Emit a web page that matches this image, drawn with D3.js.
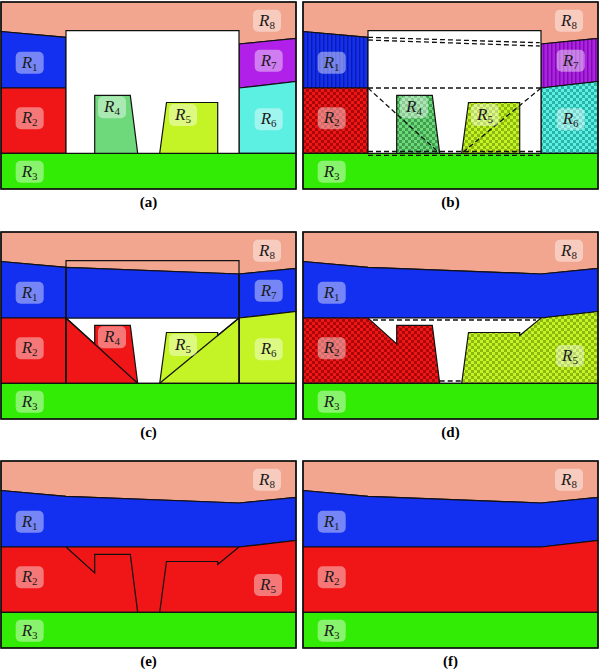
<!DOCTYPE html>
<html>
<head>
<meta charset="utf-8">
<script src="https://cdn.jsdelivr.net/npm/d3@7"></script>
<style>
  body { margin: 0; background: #fff; }
  svg { display: block; }
</style>
</head>
<body>
<div id="chart"></div>
<script>
// panel layout and captions
const captions = ["(a)", "(b)", "(c)", "(d)", "(e)", "(f)"];
const panelX = [1, 303];
const panelY = [2, 232, 461];

// region colours
const colors = {
    R1: "#132ff0", R2: "#f01516", R3: "#33ec05", R4: "#6dd97b",
    R5: "#c4f426", R6: "#5cf0e2", R7: "#b020e8", R8: "#f2a690"
};
const darkColors = {
    R1: "#0a1cb0", R2: "#a80808", R4: "#3f9f4f", R5: "#8cb810",
    R6: "#2bb3aa", R7: "#7a10a8"
};

// region vertices (data units, 295 x 187 per panel)
const r8 = [[0, 0], [295, 0], [295, 36.3], [238, 42], [65, 35.3], [0, 29.5]];
const r1 = [[0, 29.5], [65, 35.3], [65, 86], [0, 86]];
const r2 = [[0, 86], [65, 86], [65, 151.3], [0, 151.3]];
const r3 = [[0, 151.3], [295, 151.3], [295, 187], [0, 187]];
const r4 = [[93.7, 93.3], [129.3, 93.3], [136.7, 151.3], [93.7, 151.3]];
const r5 = [[165.5, 100.5], [216.7, 100.5], [216.7, 151.3], [158.7, 151.3]];
const r6 = [[238, 86], [295, 79.5], [295, 151.3], [238, 151.3]];
const r7 = [[238, 42], [295, 36.3], [295, 79.5], [238, 86]];
const box = [[65, 28.7], [238, 28.7], [238, 151.3], [65, 151.3]];
const boxTop = [[65, 35.3], [238, 42], [238, 86], [65, 86]];
const boxLow = [[65, 86], [238, 86], [238, 151.3], [65, 151.3]];
const grow4 = [[65, 86], [93.7, 112], [93.7, 93.3], [129.3, 93.3], [136.7, 151.3], [65, 151.3]];
const grow5 = [[238, 86], [216.7, 103.5], [216.7, 100.5], [165.5, 100.5], [158.7, 151.3], [238, 151.3]];
const r1Full = [[0, 29.5], [65, 35.3], [238, 42], [295, 36.3], [295, 79.5], [238, 86], [0, 86]];
const r2Merged = [[0, 86], [65, 86], [93.7, 112], [93.7, 93.3], [129.3, 93.3], [136.7, 151.3], [0, 151.3]];
const r5Merged = [[295, 79.5], [238, 86], [216.7, 103.5], [216.7, 100.5], [165.5, 100.5], [158.7, 151.3], [295, 151.3]];
const lowerFull = [[0, 86], [238, 86], [295, 79.5], [295, 151.3], [0, 151.3]];

// open polylines
const r2Edge = [[65, 86], [93.7, 112], [93.7, 93.3], [129.3, 93.3], [136.7, 151.3]];
const r5Edge = [[158.7, 151.3], [165.5, 100.5], [216.7, 100.5], [216.7, 103.5], [238, 86]];
const diag4 = [[65, 86], [136.7, 151.3]];
const diag5 = [[238, 86], [158.7, 151.3]];
const dashB = [
    [[65, 35.3], [236.7, 40.7]], [[65, 38], [236.7, 44]],
    [[65, 86], [238, 86]], diag4, diag5,
    [[65, 149.5], [238, 149.5]], [[65, 153.3], [236.7, 153.3]]
];
const dashD = [[[70, 88], [233, 88]], [[136.7, 149], [158.7, 149]]];

// label anchors
const labelPos = {
    R1: [28.7, 60.7], R2: [28.7, 116.3], R3: [28.7, 169.7], R4: [111, 105.3],
    R5: [182, 113], R6: [267.7, 117.3], R7: [267.7, 58.7], R8: [266, 18.7]
};
const labelPosMerged = { R5: [267, 124] };

const fill = k => colors[k];
const pat = k => `url(#p-${k})`;

const panels = [
    { // (a)
        shapes: [
            [r8, fill("R8")], [r1, fill("R1")], [r2, fill("R2")], [r7, fill("R7")],
            [r6, fill("R6")], [r3, fill("R3")], [box, "#fff"], [r4, fill("R4")], [r5, fill("R5")]
        ],
        lines: [], dashes: [],
        labels: ["R1", "R2", "R3", "R4", "R5", "R6", "R7", "R8"]
    },
    { // (b)
        shapes: [
            [r8, fill("R8")], [r1, pat("R1")], [r2, pat("R2")], [r7, pat("R7")],
            [r6, pat("R6")], [r3, fill("R3")], [box, "#fff"], [r4, pat("R4")], [r5, pat("R5")]
        ],
        lines: [], dashes: dashB,
        labels: ["R1", "R2", "R3", "R4", "R5", "R6", "R7", "R8"]
    },
    { // (c)
        shapes: [
            [r8, fill("R8")], [r1, fill("R1")], [r2, fill("R2")], [r7, fill("R1")],
            [r6, fill("R5")], [r3, fill("R3")], [boxLow, "#fff"], [boxTop, fill("R1")],
            [grow4, fill("R2")], [grow5, fill("R5")], [box, "none"]
        ],
        lines: [diag4, diag5], dashes: [],
        labels: ["R1", "R2", "R3", "R4", "R5", "R6", "R7", "R8"]
    },
    { // (d)
        shapes: [
            [r8, fill("R8")], [r1Full, fill("R1")], [boxLow, "#fff"],
            [r2Merged, pat("R2")], [r5Merged, pat("R5")], [r3, fill("R3")]
        ],
        lines: [], dashes: dashD,
        labels: ["R1", "R2", "R3", "R5", "R8"], merged: true
    },
    { // (e)
        shapes: [
            [r8, fill("R8")], [r1Full, fill("R1")], [lowerFull, fill("R2")], [r3, fill("R3")]
        ],
        lines: [r2Edge, r5Edge], dashes: [],
        labels: ["R1", "R2", "R3", "R5", "R8"], merged: true
    },
    { // (f)
        shapes: [
            [r8, fill("R8")], [r1Full, fill("R1")], [lowerFull, fill("R2")], [r3, fill("R3")]
        ],
        lines: [], dashes: [],
        labels: ["R1", "R2", "R3", "R8"]
    }
];

const width = 600, height = 671;
const pw = 295, ph = 187;

const svg = d3.select("#chart")
    .append("svg")
    .attr("width", width)
    .attr("height", height);

const x = d3.scaleLinear().domain([0, 295]).range([0, pw]);
const y = d3.scaleLinear().domain([0, 187]).range([0, ph]);
const line = d3.line().x(d => x(d[0])).y(d => y(d[1]));

// fill patterns for panels (b) and (d)
const defs = svg.append("defs");
Object.keys(darkColors).forEach(k => {
    const p = defs.append("pattern")
        .attr("id", "p-" + k)
        .attr("patternUnits", "userSpaceOnUse");
    if (k === "R1" || k === "R7") {
        p.attr("width", 4).attr("height", 4);
        p.append("rect").attr("width", 4).attr("height", 4).attr("fill", colors[k]);
        p.append("rect").attr("width", 1.5).attr("height", 4).attr("fill", darkColors[k]);
    } else {
        p.attr("width", 6).attr("height", 6);
        p.append("rect").attr("width", 6).attr("height", 6).attr("fill", colors[k]);
        p.append("rect").attr("width", 3).attr("height", 3).attr("fill", darkColors[k]);
        p.append("rect").attr("x", 3).attr("y", 3).attr("width", 3).attr("height", 3).attr("fill", darkColors[k]);
    }
});

panels.forEach((spec, i) => {
    const g = svg.append("g")
        .attr("transform", `translate(${panelX[i % 2]},${panelY[Math.floor(i / 2)]})`);

    g.selectAll("path.region")
        .data(spec.shapes)
        .join("path")
        .attr("class", "region")
        .attr("d", d => line(d[0]) + "Z")
        .attr("fill", d => d[1])
        .attr("stroke", "#111")
        .attr("stroke-width", 1.2)
        .attr("stroke-linejoin", "miter");

    g.selectAll("path.edge")
        .data(spec.lines)
        .join("path")
        .attr("class", "edge")
        .attr("d", line)
        .attr("fill", "none")
        .attr("stroke", "#111")
        .attr("stroke-width", 1.2);

    g.selectAll("path.dash")
        .data(spec.dashes)
        .join("path")
        .attr("class", "dash")
        .attr("d", line)
        .attr("fill", "none")
        .attr("stroke", "#111")
        .attr("stroke-width", 1.3)
        .attr("stroke-dasharray", "5,3");

    // labels
    const lab = g.selectAll("g.lab")
        .data(spec.labels)
        .join("g")
        .attr("class", "lab")
        .attr("transform", d => {
            const p = (spec.merged && labelPosMerged[d]) || labelPos[d];
            return `translate(${x(p[0])},${y(p[1])})`;
        });

    lab.append("rect")
        .attr("x", -14).attr("y", -11)
        .attr("width", 28).attr("height", 22)
        .attr("rx", 5)
        .attr("fill", "#fff")
        .attr("fill-opacity", 0.42);

    const t = lab.append("text")
        .attr("x", -8).attr("y", 5)
        .style("font-family", "'Liberation Serif', serif")
        .style("font-size", "17px")
        .style("fill", "#1a1a1a");
    t.append("tspan").text("R").style("font-style", "italic");
    t.append("tspan").attr("dy", 3).style("font-size", "11px").text(d => d.slice(1));

    // frame
    g.append("rect")
        .attr("width", pw).attr("height", ph)
        .attr("fill", "none")
        .attr("stroke", "#111")
        .attr("stroke-width", 1.5);

    g.append("text")
        .attr("x", pw / 2)
        .attr("y", ph + 18)
        .attr("text-anchor", "middle")
        .style("font-family", "'Liberation Serif', serif")
        .style("font-weight", "bold")
        .style("font-size", "15px")
        .text(captions[i]);
});
</script>
</body>
</html>
